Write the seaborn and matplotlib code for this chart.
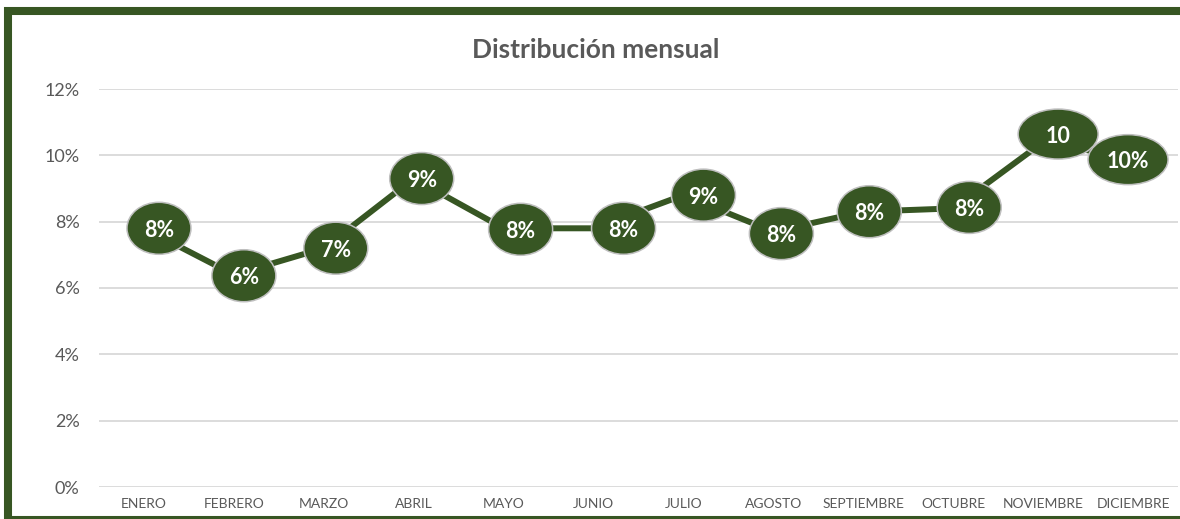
import matplotlib
matplotlib.use("Agg")
import matplotlib.pyplot as plt
import seaborn as sns
import pandas as pd
from matplotlib.patches import Rectangle, Ellipse
from matplotlib.offsetbox import DrawingArea, AnnotationBbox

months = ["ENERO", "FEBRERO", "MARZO", "ABRIL", "MAYO", "JUNIO", "JULIO",
          "AGOSTO", "SEPTIEMBRE", "OCTUBRE", "NOVIEMBRE", "DICIEMBRE"]
values = [0.078, 0.064, 0.072, 0.093, 0.078, 0.078, 0.088,
          0.077, 0.083, 0.084, 0.104, 0.099]
labels = ["8%", "6%", "7%", "9%", "8%", "8%", "9%", "8%", "8%", "8%", "10", "10%"]
yticks = [0, 0.02, 0.04, 0.06, 0.08, 0.10, 0.12]
ytick_labels = ["0%", "2%", "4%", "6%", "8%", "10%", "12%"]

# label nudges in pixels (style only)
label_dx = [15, 10, 12, 8, 17, 30, 20, 8, 6, 16, 15, -5]
label_dy = [0, -1, 0, 0, -1, 0, 0, -2, 0, 1, 8, -1]

GREEN = "#375623"
GRAY = "#595959"
PX = 0.72  # pixels -> points at 100 dpi

sns.set_theme(style="white")
plt.rcParams["font.family"] = ["Lato", "DejaVu Sans"]

df = pd.DataFrame({"mes": months, "valor": values})

fig = plt.figure(figsize=(11.8, 5.19), dpi=100)
ax = fig.add_axes([99 / 1180, 1 - 487 / 519, 1079 / 1180, 398 / 519])

sns.lineplot(data=df, x="mes", y="valor", sort=False, color=GREEN,
             linewidth=4.3, ax=ax, zorder=3)

ax.set_ylim(0, 0.12)
ax.set_xlim(-0.5, len(months) - 0.5)
ax.set_yticks(yticks)
ax.set_yticklabels(ytick_labels, color=GRAY, fontsize=13)
ax.set_xticks(range(len(months)))
ax.set_xticklabels(months, color=GRAY, fontsize=10)
ax.tick_params(axis="y", length=0, pad=14)
ax.tick_params(axis="x", length=0, pad=8)
ax.set_xlabel("")
ax.set_ylabel("")
for s in ax.spines.values():
    s.set_visible(False)
ax.yaxis.grid(True, color="#d9d9d9", linewidth=1.3)
ax.set_axisbelow(True)

for i, (v, lab) in enumerate(zip(values, labels)):
    w_px = 64 if len(lab.rstrip("%")) == 1 else 80
    h_px = 52 if len(lab.rstrip("%")) == 1 else 50
    w, h = w_px * PX, h_px * PX
    da = DrawingArea(w + 2, h + 2, 0, 0)
    da.add_artist(Ellipse((w / 2 + 1, h / 2 + 1), w, h, facecolor=GREEN,
                          edgecolor="#bfbfbf", linewidth=1.1))
    ab = AnnotationBbox(da, (i, v), xybox=(label_dx[i] * PX, label_dy[i] * PX),
                        boxcoords="offset points", frameon=False, pad=0,
                        box_alignment=(0.5, 0.5), zorder=4)
    ax.add_artist(ab)
    ax.annotate(lab, xy=(i, v), xytext=(label_dx[i] * PX, label_dy[i] * PX),
                textcoords="offset points", ha="center", va="center_baseline",
                color="white", fontsize=15.5, fontweight="bold", zorder=5)

fig.text(596 / 1180, 1 - 50 / 519, "Distribución mensual", ha="center", va="center",
         fontsize=19, fontweight="bold", color=GRAY)

border = Rectangle((8 / 1180, -0.5), 1.2, 1 - 11 / 519 + 0.5, transform=fig.transFigure,
                   fill=False, edgecolor=GREEN, linewidth=5.8, zorder=10)
fig.patches.append(border)
fig.add_artist(plt.Line2D([8 / 1180, 1.0], [1 - 519.5 / 519, 1 - 519.5 / 519],
                          transform=fig.transFigure, color=GREEN, linewidth=5.8))

fig.savefig("out.png", dpi=100)
